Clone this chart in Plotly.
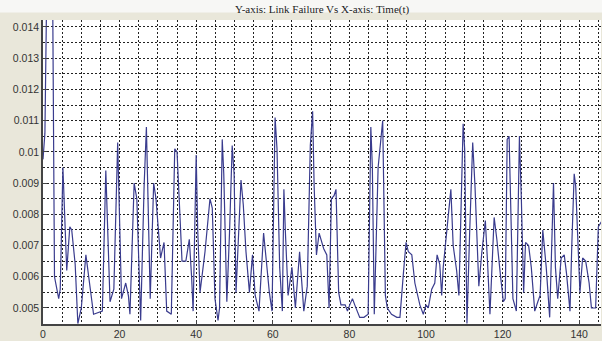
import plotly.graph_objects as go

# Time (t) positions and link-failure values
time_t = [0, 0.5, 1.0, 2.5, 3.0, 4.1, 4.5, 5.2, 6.2, 7.0, 7.5, 8.4, 9.1, 10.0, 11.2, 12.3, 13.2, 15.5,
          16.4, 17.5, 18.5, 19.5, 20.5, 21.6, 22.3, 22.7, 23.8, 24.5, 25.5, 26.4, 27.0, 28.0, 28.9, 29.5,
          30.7, 31.6, 32.3, 33.5, 34.4, 35.0, 36.3, 37.3, 38.2, 38.8, 39.2, 40.0, 40.4, 41.0, 42.3, 43.6,
          44.2, 44.9, 45.7, 46.1, 46.8, 47.2, 48.0, 48.7, 49.4, 49.9, 50.4, 51.7, 52.3, 53.0, 53.9, 54.7,
          55.4, 56.4, 57.6, 58.4, 59.1, 59.8, 60.6, 61.1, 61.8, 62.5, 62.9, 63.3, 64.0, 65.0, 65.9, 67.0,
          68.1, 69.0, 69.8, 70.4, 70.8, 71.4, 72.1, 73.3, 74.1, 74.7, 75.3, 76.0, 76.5, 77.2, 77.8, 78.9,
          79.5, 80.1, 80.8, 81.4, 82.0, 82.7, 83.8, 84.9, 85.6, 86.0, 86.5, 87.5, 88.7, 89.4, 89.9, 91.0,
          92.4, 93.2, 94.1, 94.8, 95.4, 96.3, 97.1, 98.4, 99.3, 100.0, 100.6, 101.5, 102.3, 102.9, 103.6,
          104.1, 104.5, 105.4, 106.5, 107.1, 108.0, 108.6, 109.2, 109.7, 110.1, 110.7, 111.4, 112.2, 112.8,
          113.8, 114.6, 115.5, 116.1, 116.7, 117.8, 118.5, 119.4, 120.2, 120.7, 121.2, 121.7, 122.3, 122.7,
          123.6, 124.4, 124.9, 125.5, 126.0, 126.8, 127.5, 128.4, 129.2, 129.8, 130.5, 131.4, 132.3, 133.3,
          133.8, 134.4, 135.3, 136.1, 136.7, 137.6, 138.1, 138.7, 139.1, 140.2, 140.9, 141.7, 142.6, 143.2,
          144.3, 145.0, 146.0]

link_failure = [0.00976, 0.0106, 0.0155, 0.0155, 0.0060, 0.0053, 0.0056, 0.0095, 0.0062, 0.0076, 0.0075,
                0.0064, 0.0045, 0.0050, 0.0067, 0.0056, 0.0048, 0.0049,
                0.0094, 0.0052, 0.0056, 0.0103, 0.0053, 0.0058, 0.0054, 0.0048, 0.0090, 0.0085, 0.0046,
                0.0089, 0.0108, 0.0053, 0.0090, 0.0085,
                0.0066, 0.0071, 0.0049, 0.0048, 0.0101, 0.0100, 0.0065, 0.0065, 0.0072, 0.0060, 0.0049,
                0.0099, 0.0075, 0.0055, 0.0068, 0.0085,
                0.0082, 0.0053, 0.0046, 0.0050, 0.0104, 0.0093, 0.0052, 0.0074, 0.0102, 0.0093, 0.0055,
                0.0091, 0.0083, 0.0068, 0.0055, 0.0067,
                0.0054, 0.0049, 0.0074, 0.0064, 0.0055, 0.0049, 0.0111, 0.0101, 0.0063, 0.0049, 0.0088,
                0.0074, 0.0054, 0.0063, 0.0050, 0.0068,
                0.0049, 0.0057, 0.0102, 0.0113, 0.0089, 0.0067, 0.0074, 0.0069, 0.0067, 0.0050, 0.0085,
                0.0086, 0.0088, 0.0055, 0.0051, 0.0051,
                0.0049, 0.0051, 0.0053, 0.0051, 0.0049, 0.0047, 0.0047, 0.0048, 0.0108, 0.0095, 0.0048,
                0.0095, 0.0110, 0.0054, 0.0050, 0.0048,
                0.0047, 0.0047, 0.0061, 0.0071, 0.0068, 0.0067, 0.0058, 0.0051, 0.0048, 0.0051, 0.0050,
                0.0056, 0.0058, 0.0067, 0.0064,
                0.0054, 0.0063, 0.0075, 0.0088, 0.0070, 0.0062, 0.0054, 0.0085, 0.0109, 0.0101, 0.0045,
                0.0074, 0.0103, 0.0089,
                0.0057, 0.0068, 0.0078, 0.0064, 0.0048, 0.0079, 0.0072, 0.0061, 0.0052, 0.0053, 0.0104,
                0.0105, 0.0075, 0.0053,
                0.0049, 0.0105, 0.0085, 0.0055, 0.0071, 0.0070, 0.0063, 0.0049, 0.0052, 0.0054, 0.0075,
                0.0063, 0.0047, 0.0090,
                0.0063, 0.0053, 0.0066, 0.0067, 0.0061, 0.0049, 0.0071, 0.0093, 0.0089, 0.0055, 0.0066,
                0.0065, 0.0058, 0.0050,
                0.0050, 0.0076, 0.0078]

x_tick_vals = [0, 20, 40, 60, 80, 100, 120, 140]
x_tick_text = ["0", "20", "40", "60", "80", "100", "120", "140"]
y_tick_vals = [0.005, 0.006, 0.007, 0.008, 0.009, 0.010, 0.011, 0.012, 0.013, 0.014]
y_tick_text = ["0.005", "0.006", "0.007", "0.008", "0.009", "0.01", "0.011", "0.012", "0.013", "0.014"]

title_text = "Y-axis: Link Failure Vs X-axis: Time(t)"

fig = go.Figure()
fig.add_trace(go.Scatter(x=time_t, y=link_failure, mode="lines",
                         line=dict(color="#3a3c8e", width=1.2), cliponaxis=True,
                         showlegend=False))

GRID = "#222222"
DASH = "2px,2px"

fig.update_layout(
    width=602, height=341,
    margin=dict(l=43, r=1, t=20, b=17),
    paper_bgcolor="#e9e7da",
    plot_bgcolor="#ffffff",
    title=dict(text=title_text, x=0.535, xanchor="center", y=0.972, yanchor="middle",
               font=dict(family="Liberation Serif, Times New Roman, serif", size=11, color="#222222")),
    font=dict(family="Liberation Sans, Arial, sans-serif", size=10.5, color="#333333"),
    xaxis=dict(range=[0, 145.7], tickvals=x_tick_vals, ticktext=x_tick_text, automargin=False,
               showgrid=True, gridcolor=GRID, gridwidth=1, griddash=DASH,
               minor=dict(dtick=5, tick0=0, showgrid=True, gridcolor=GRID, gridwidth=1, griddash=DASH),
               showline=True, linecolor="#444444", linewidth=1.5,
               ticks="inside", ticklen=4, tickcolor="#444444", zeroline=False),
    yaxis=dict(range=[0.004487, 0.014224], tickvals=y_tick_vals, ticktext=y_tick_text, automargin=False,
               showgrid=True, gridcolor=GRID, gridwidth=1, griddash=DASH,
               minor=dict(dtick=0.0005, tick0=0, showgrid=True, gridcolor=GRID, gridwidth=1, griddash=DASH),
               showline=True, linecolor="#444444", linewidth=1.5,
               ticks="inside", ticklen=4, tickcolor="#444444", zeroline=False),
    shapes=[dict(type="rect", xref="paper", yref="paper", x0=-0.1, x1=1.01, y0=1.025, y1=1.07,
                 fillcolor="#f7f7f5", line=dict(width=0), layer="below")],
)

fig.write_html("out.html", config={"displayModeBar": False},
               post_script="document.body.style.margin='0';")
